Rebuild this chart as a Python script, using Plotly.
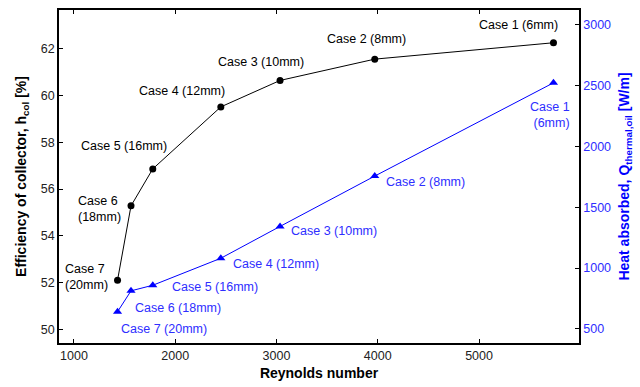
import plotly.graph_objects as go

# ---- data ----
reynolds = [5735, 3970, 3035, 2450, 1778, 1563, 1430]
efficiency = [62.25, 61.55, 60.64, 59.51, 56.86, 55.28, 52.1]
heat_absorbed = [2524, 1757, 1343, 1081, 859, 813, 641]
eff_labels = ["Case 1 (6mm)", "Case 2 (8mm)", "Case 3 (10mm)", "Case 4 (12mm)",
              "Case 5 (16mm)", "Case 6<br>(18mm)", "Case 7<br>(20mm)"]
heat_labels = ["Case 1<br>(6mm)", "Case 2 (8mm)", "Case 3 (10mm)", "Case 4 (12mm)",
               "Case 5 (16mm)", "Case 6 (18mm)", "Case 7 (20mm)"]

FONT = "Liberation Sans, Arial, sans-serif"
BLUE = "#0000FF"
BLUE_TXT = "#2E2EFF"
LBL = 12.5

fig = go.Figure()
fig.add_trace(go.Scatter(x=reynolds, y=efficiency, mode="lines+markers",
                         line=dict(color="black", width=1),
                         marker=dict(symbol="circle", size=7, color="black"),
                         showlegend=False, yaxis="y"))
fig.add_trace(go.Scatter(x=reynolds, y=heat_absorbed, mode="lines+markers",
                         line=dict(color=BLUE, width=1),
                         marker=dict(symbol="triangle-up", size=8, color=BLUE),
                         showlegend=False, yaxis="y2"))

# label placement (pixel offsets from each point)
eff_place = [
    dict(xanchor="center", yanchor="middle", xshift=-35, yshift=18, align="center"),
    dict(xanchor="center", yanchor="middle", xshift=-8, yshift=20, align="center"),
    dict(xanchor="center", yanchor="middle", xshift=-19, yshift=18, align="center"),
    dict(xanchor="center", yanchor="middle", xshift=-39, yshift=16, align="center"),
    dict(xanchor="center", yanchor="middle", xshift=-29, yshift=23, align="center"),
    dict(xanchor="right", yanchor="middle", xshift=-8, yshift=-3, align="left"),
    dict(xanchor="right", yanchor="middle", xshift=-8, yshift=3, align="left"),
]
heat_place = [
    dict(xanchor="right", yanchor="middle", xshift=19, yshift=-32, align="right"),
    dict(xanchor="left", yanchor="middle", xshift=9, yshift=-6, align="left"),
    dict(xanchor="left", yanchor="middle", xshift=9, yshift=-5, align="left"),
    dict(xanchor="left", yanchor="middle", xshift=10, yshift=-6, align="left"),
    dict(xanchor="left", yanchor="middle", xshift=17, yshift=-2, align="left"),
    dict(xanchor="left", yanchor="middle", xshift=2, yshift=-17, align="left"),
    dict(xanchor="left", yanchor="middle", xshift=1, yshift=-17, align="left"),
]

annotations = []
for x, y, t, p in zip(reynolds, efficiency, eff_labels, eff_place):
    annotations.append(dict(x=x, y=y, xref="x", yref="y", text=t, showarrow=False,
                            font=dict(family=FONT, size=LBL, color="black"), **p))
for x, y, t, p in zip(reynolds, heat_absorbed, heat_labels, heat_place):
    annotations.append(dict(x=x, y=y, xref="x", yref="y2", text=t, showarrow=False,
                            font=dict(family=FONT, size=LBL, color=BLUE_TXT), **p))

axis_common = dict(showgrid=False, zeroline=False, showline=True, linecolor="black",
                   linewidth=1.5, ticks="inside", ticklen=4, tickcolor="black")

fig.update_layout(
    width=640, height=387,
    margin=dict(l=59, r=61, t=8, b=42),
    paper_bgcolor="white", plot_bgcolor="white",
    font=dict(family=FONT, size=12, color="black"),
    xaxis=dict(range=[852, 5987], tickvals=[1000, 2000, 3000, 4000, 5000],
               mirror="ticks",
               title=dict(text="<b>Reynolds number</b>", standoff=6,
                          font=dict(size=14, color="black")),
               tickfont=dict(size=12.5, color="#222222"), **axis_common),
    yaxis=dict(range=[49.42, 63.65], tickvals=[50, 52, 54, 56, 58, 60, 62],
               title=dict(text="<b>Efficiency of collector, h<sub>col</sub> [%]</b>",
                          standoff=11, font=dict(size=14, color="black")),
               tickfont=dict(size=12.5, color="#222222"), **axis_common),
    yaxis2=dict(range=[384, 3123], tickvals=[500, 1000, 1500, 2000, 2500, 3000],
                overlaying="y", side="right",
                title=dict(text="<b>Heat absorbed, Q<sub>thermal,oil</sub> [W/m]</b>",
                           standoff=9, font=dict(size=14, color=BLUE)),
                tickfont=dict(size=12.5, color=BLUE_TXT), **axis_common),
    annotations=annotations,
)

fig.write_html("out.html")
